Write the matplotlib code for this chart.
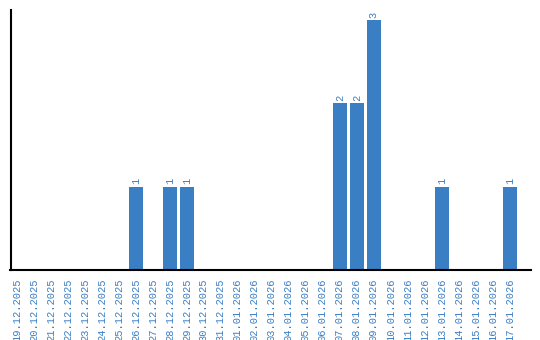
import matplotlib
matplotlib.use("Agg")
import matplotlib.pyplot as plt

# Daily counts
dates = ["19.12.2025", "20.12.2025", "21.12.2025", "22.12.2025", "23.12.2025",
         "24.12.2025", "25.12.2025", "26.12.2025", "27.12.2025", "28.12.2025",
         "29.12.2025", "30.12.2025", "31.12.2025", "01.01.2026", "02.01.2026",
         "03.01.2026", "04.01.2026", "05.01.2026", "06.01.2026", "07.01.2026",
         "08.01.2026", "09.01.2026", "10.01.2026", "11.01.2026", "12.01.2026",
         "13.01.2026", "14.01.2026", "15.01.2026", "16.01.2026", "17.01.2026"]
counts = [0, 0, 0, 0, 0, 0, 0, 1, 0, 1,
          1, 0, 0, 0, 0, 0, 0, 0, 0, 2,
          2, 3, 0, 0, 0, 1, 0, 0, 0, 1]

blue = "#3a7ec3"
plt.rcParams['font.family'] = ['Liberation Mono', 'DejaVu Sans Mono']

fig = plt.figure(figsize=(5.4, 3.4), dpi=100)
ax = fig.add_axes([10.5/540, 70/340, 520/540, 260/340])

x = list(range(len(dates)))
bars = ax.bar(x, counts, width=0.82, color=blue)

for xi, c in zip(x, counts):
    if c > 0:
        ax.text(xi, c + 0.03, str(c), rotation=90, ha='center', va='bottom',
                fontsize=7.5, color=blue)

ax.set_xlim(-0.38, 30.22)
ax.set_ylim(0, 3.12)
ax.set_xticks(x)
ax.set_xticklabels(dates, rotation=90, fontsize=7.5, color=blue)
ax.set_yticks([])
ax.tick_params(axis='x', length=0, pad=6)
ax.spines['top'].set_visible(False)
ax.spines['right'].set_visible(False)
ax.spines['left'].set_linewidth(1.5)
ax.spines['bottom'].set_linewidth(1.5)

fig.savefig("out.png", dpi=100)
